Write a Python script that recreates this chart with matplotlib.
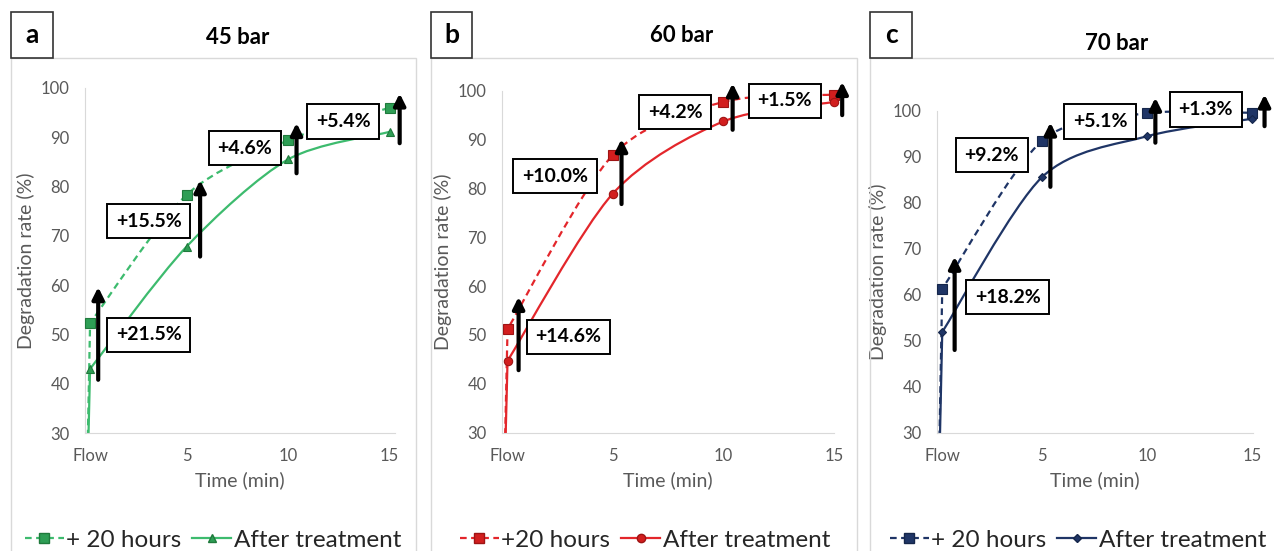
import matplotlib
matplotlib.use("Agg")
import matplotlib.pyplot as plt
from matplotlib.path import Path
from matplotlib.patches import PathPatch, Rectangle
from matplotlib.lines import Line2D

plt.rcParams['font.family'] = ['Lato', 'DejaVu Sans']

# ---- data ----
FLOW_X = 0.25
time = [0, FLOW_X, 5, 10, 15]
tick_labels = ["Flow", "5", "10", "15"]

a_h20 = [0, 52.3, 78.3, 89.4, 96.0]
a_after = [0, 43.0, 67.8, 85.5, 91.1]
a_gain = ["+21.5%", "+15.5%", "+4.6%", "+5.4%"]

b_h20 = [0, 51.2, 86.8, 97.7, 99.2]
b_after = [0, 44.7, 78.9, 93.7, 97.7]
b_gain = ["+14.6%", "+10.0%", "+4.2%", "+1.5%"]

c_h20 = [0, 61.3, 93.5, 99.5, 99.6]
c_after = [0, 51.9, 85.6, 94.5, 98.3]
c_gain = ["+18.2%", "+9.2%", "+5.1%", "+1.3%"]

W, H = 1274, 551

def fx(px):
    return px / W

def fy(py):
    return 1 - py / H

# ---- layout per panel (pixels / annotation spots) ----
panels = [
    dict(h20=a_h20, after=a_after, gain=a_gain, title="45 bar", letter="a",
         color="#3DBB6E", mface="#2E9E55", medge="#1F7A3C", amark="^", msz=6,
         h20_label="+ 20 hours",
         ax=(85, 395, 88, 433), xmax=15.27,
         frame=(11, 416), lbox=(11, 53), title_xy=(238, 37), legend_x=213,
         arrow_x=[0.65, 5.67, 10.42, 15.5], arrow_lo=[40.8, 65.8, 82.7, 88.8],
         arrow_hi=[59.6, 81.3, 92.9, 98.9],
         box=[(3.13, 49.9), (3.13, 73.0), (7.88, 87.8), (12.73, 93.2)]),
    dict(h20=b_h20, after=b_after, gain=b_gain, title="60 bar", letter="b",
         color="#E3262B", mface="#D21E1E", medge="#9E1414", amark="o", msz=6,
         h20_label="+20 hours",
         ax=(502, 834, 90.7, 432.7), xmax=15.0,
         frame=(431, 857), lbox=(431, 472), title_xy=(682, 35), legend_x=645,
         arrow_x=[0.75, 5.4, 10.42, 15.37], arrow_lo=[42.8, 76.8, 92.0, 95.0],
         arrow_hi=[57.8, 90.1, 101.5, 101.8],
         box=[(3.0, 49.6), (2.39, 82.5), (7.82, 95.6), (12.77, 97.9)]),
    dict(h20=c_h20, after=c_after, gain=c_gain, title="70 bar", letter="c",
         color="#1F3566", mface="#1F3566", medge="#15264A", amark="D", msz=4,
         h20_label="+ 20 hours",
         ax=(937, 1253, 111, 432.7), xmax=15.05,
         frame=(870, 1290), lbox=(870, 912), title_xy=(1117, 43), legend_x=1078,
         arrow_x=[0.84, 5.4, 10.4, 15.6], arrow_lo=[48.0, 83.5, 93.1, 96.7],
         arrow_hi=[68.3, 97.5, 102.9, 103.6],
         box=[(3.37, 59.5), (2.61, 90.4), (7.78, 97.7), (12.8, 100.3)]),
]


def smooth_path(xs, ys, k=1 / 7):
    # excel-like smoothed line: straight first leg, catmull-rom after
    verts = [(xs[0], ys[0])]
    codes = [Path.MOVETO]
    n = len(xs)
    for i in range(n - 1):
        p0 = (xs[i - 1], ys[i - 1]) if i > 1 else (xs[i], ys[i])
        p1 = (xs[i], ys[i])
        p2 = (xs[i + 1], ys[i + 1])
        p3 = (xs[i + 2], ys[i + 2]) if i + 2 < n else p2
        if i == 0:
            c1 = (p1[0] + (p2[0] - p1[0]) / 3, p1[1] + (p2[1] - p1[1]) / 3)
            c2 = (p2[0] - (p2[0] - p1[0]) / 3, p2[1] - (p2[1] - p1[1]) / 3)
        else:
            c1 = (p1[0] + (p2[0] - p0[0]) * k, p1[1] + (p2[1] - p0[1]) * k)
            c2 = (p2[0] - (p3[0] - p1[0]) * k, p2[1] - (p3[1] - p1[1]) * k)
        verts += [c1, c2, p2]
        codes += [Path.CURVE4] * 3
    return Path(verts, codes)


fig = plt.figure(figsize=(W / 100, H / 100), dpi=100)

for p in panels:
    l, r, t, b = p["ax"]
    ax = fig.add_axes([fx(l), fy(b), fx(r - l), (b - t) / H])
    ax.set_xlim(0, p["xmax"])
    ax.set_ylim(30, 100)
    clip = Rectangle((0, 0), 1, 1.3, transform=ax.transAxes)

    col = p["color"]
    for ys, ls in ((p["h20"], (0, (3, 2))), (p["after"], "-")):
        patch = PathPatch(smooth_path(time, ys), fill=False, edgecolor=col,
                          lw=1.6, linestyle=ls, zorder=2)
        ax.add_patch(patch)
        patch.set_clip_path(clip)

    ax.plot(time[1:], p["h20"][1:], ls="none", marker="s", ms=6.5,
            mfc=p["mface"], mec=p["medge"], mew=0.8, zorder=3, clip_on=False)
    ax.plot(time[1:], p["after"][1:], ls="none", marker=p["amark"], ms=p["msz"],
            mfc=p["mface"], mec=p["medge"], mew=0.8, zorder=3, clip_on=False)

    for i in range(4):
        ax.annotate("", xy=(p["arrow_x"][i], p["arrow_hi"][i]),
                    xytext=(p["arrow_x"][i], p["arrow_lo"][i]),
                    arrowprops=dict(arrowstyle="-|>", color="black", lw=3,
                                    mutation_scale=17, shrinkA=0, shrinkB=0),
                    annotation_clip=False, zorder=5)
        bx, by = p["box"][i]
        ax.text(bx, by, p["gain"][i], ha="center", va="center", fontsize=14,
                fontweight="bold", color="black", zorder=6,
                bbox=dict(boxstyle="square,pad=0.45", fc="white", ec="black", lw=1.4))

    ax.set_xticks([FLOW_X, 5, 10, 15])
    ax.set_xticklabels(tick_labels)
    ax.set_yticks(range(30, 101, 10))
    ax.tick_params(length=0, labelsize=12, labelcolor="#595959", pad=11)
    for s in ("top", "right"):
        ax.spines[s].set_visible(False)
    for s in ("left", "bottom"):
        ax.spines[s].set_color("#D9D9D9")
    ax.set_xlabel("Time (min)", fontsize=14, color="#595959", labelpad=5)
    ax.set_ylabel("Degradation rate (%)", fontsize=14, color="#595959", labelpad=4)

    # chart frame + letter box + title
    f0, f1 = p["frame"]
    fig.patches.append(Rectangle((fx(f0), -0.05), fx(f1 - f0), fy(58) + 0.05,
                                 transform=fig.transFigure, fill=False,
                                 ec="#D9D9D9", lw=1, zorder=0))
    l0, l1 = p["lbox"]
    fig.patches.append(Rectangle((fx(l0), fy(58)), fx(l1 - l0), 46 / H,
                                 transform=fig.transFigure, fc="white",
                                 ec="#333333", lw=1.2, zorder=1))
    fig.text(fx((l0 + l1) / 2), fy(35), p["letter"], ha="center", va="center",
             fontsize=19, fontweight="bold", color="black")
    tx, ty = p["title_xy"]
    fig.text(fx(tx), fy(ty), p["title"], ha="center", va="center",
             fontsize=16, fontweight="bold", color="black")

    handles = [
        Line2D([], [], color=col, lw=1.6, ls=(0, (3, 2)), marker="s", ms=6.5,
               mfc=p["mface"], mec=p["medge"]),
        Line2D([], [], color=col, lw=1.6, marker=p["amark"], ms=p["msz"],
               mfc=p["mface"], mec=p["medge"]),
    ]
    fig.legend(handles, [p["h20_label"], "After treatment"], loc="center",
               bbox_to_anchor=(fx(p["legend_x"]), fy(540)), ncol=2,
               frameon=False, fontsize=17.5, handlelength=1.6, handletextpad=0.1,
               columnspacing=0.45, labelcolor="#262626", borderpad=0)

fig.savefig("out.png", dpi=100)
